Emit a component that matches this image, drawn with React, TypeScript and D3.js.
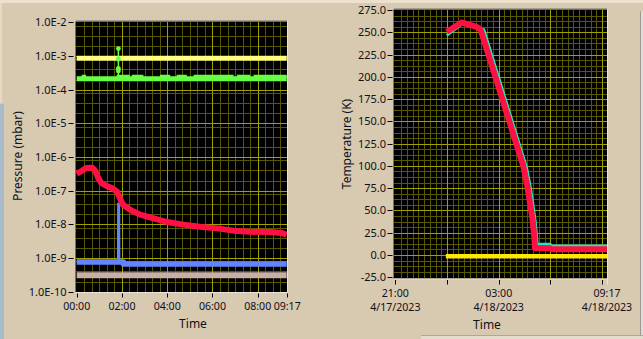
import React from "react";
import * as d3 from "d3";

const W = 643;
const H = 339;

// ---------- Left chart: pressure (log), minutes since 00:00 ----------
const pTickValues = [1e-2, 1e-3, 1e-4, 1e-5, 1e-6, 1e-7, 1e-8, 1e-9, 1e-10];
const pTickLabels = ["1.0E-2", "1.0E-3", "1.0E-4", "1.0E-5", "1.0E-6", "1.0E-7", "1.0E-8", "1.0E-9", "1.0E-10"];
const leftTimeTicks = [0, 120, 240, 360, 480, 557];
const leftTimeLabels = ["00:00", "02:00", "04:00", "06:00", "08:00", "09:17"];

const yellowP: [number, number][] = [[0, 8.5e-4], [557, 8.5e-4]];
const greenP: [number, number][] = [[0, 2.12e-4], [557, 2.12e-4]];
const greenBumps: [number, number][] = [[13, 25], [106, 141], [146, 177], [221, 248], [265, 292], [310, 416], [425, 460], [469, 557]];
const greenSpike: [number, number][] = [[110.5, 2.3e-4], [110.5, 3.6e-4], [110.5, 4.3e-4], [110.5, 8e-4], [110.5, 1.66e-3]];
const redP: [number, number][] = [
  [0, 3.2e-7], [14, 3.9e-7], [25, 4.7e-7], [41, 4.8e-7], [49, 3.9e-7], [57, 2.4e-7],
  [65, 1.7e-7], [78, 1.4e-7], [96, 1.15e-7], [107, 9.3e-8], [115, 5.8e-8], [123, 3.8e-8],
  [142, 2.7e-8], [168, 1.95e-8], [195, 1.6e-8], [240, 1.17e-8], [283, 9.8e-9], [327, 8.5e-9],
  [373, 7.6e-9], [416, 6.5e-9], [460, 6.0e-9], [513, 5.9e-9], [545, 5.5e-9], [557, 4.9e-9],
];
const blueP: [number, number][] = [[0, 7.6e-10], [124, 7.6e-10], [124, 6.6e-10], [557, 6.6e-10]];
const blueSpike: [number, number][] = [[110, 7.5e-10], [110.5, 4.1e-8], [112, 4.1e-8], [112.5, 7.5e-10]];
const roseP: [number, number][] = [[0, 3.1e-10], [557, 3.1e-10]];

// ---------- Right chart: temperature, minutes since 21:00 4/17 ----------
const tTickValues = [275, 250, 225, 200, 175, 150, 125, 100, 75, 50, 25, 0, -25];
const rightTimeTicks = [0, 180, 360, 540, 720];
const rightLabelTimes = [0, 360, 737];
const rightLabelTop = ["21:00", "03:00", "09:17"];
const rightLabelBottom = ["4/17/2023", "4/18/2023", "4/18/2023"];

const redT: [number, number][] = [
  [179, 250.5], [231, 261], [283, 256], [297, 253], [446, 99.5], [460, 76.7], [469, 58],
  [478, 39.3], [484, 20.5], [486, 8], [539, 7.5], [545, 6.6], [737, 6.5],
];
const cyanT: [number, number][] = [
  [179, 246.5], [233, 259.5], [290, 255.5], [308, 253], [457, 98], [470, 76], [479, 57],
  [487, 38], [492, 20], [494, 12], [539, 12], [545, 10.3], [737, 10],
];
const yellowT: [number, number][] = [[176, -1.5], [737, -1.5]];

// ---------- scales ----------
const lx = d3.scaleLinear().domain([0, 557]).range([76.7, 286.7]);
const ly = d3.scaleLog().domain([1e-10, 1e-2]).range([291.7, 22.3]);
const rx = d3.scaleLinear().domain([0, 737]).range([395.3, 607]);
const ry = d3.scaleLinear().domain([-25, 275]).range([277.3, 10]);

const MAJOR = "#a0a000";
const MINOR = "#585800";
const FONT = "'Noto Sans', 'DejaVu Sans', sans-serif";
const TXT = "#101018";

export default function App() {
  const lineL = d3.line<[number, number]>().x((d) => lx(d[0])).y((d) => ly(d[1]));
  const lineR = d3.line<[number, number]>().x((d) => rx(d[0])).y((d) => ry(d[1]));

  // left grid
  const lMinorV = d3.range(20, 557, 20).filter((t) => t % 120 !== 0);
  const lMajorV = d3.range(120, 557, 120);
  const lMinorH: number[] = [];
  for (let e = -10; e < -2; e++) [2, 4, 8].forEach((m) => lMinorH.push(m * Math.pow(10, e)));
  const lMajorH = pTickValues.slice(1, -1);

  // right grid
  const rMinorV = d3.range(20, 737, 20).filter((t) => t % 180 !== 0);
  const rMajorV = d3.range(180, 737, 180);
  const rMinorH = d3.range(-25, 275, 6.25).filter((v) => v % 25 !== 0);
  const rMajorH = d3.range(0, 275, 25);

  const lL = 76, lR = 287, lT = 21.5, lB = 292;
  const rL = 394, rR = 607, rT = 9.5, rB = 278.5;
  const FS = 11;
  const FX = 10.6;

  return (
    <svg width={W} height={H} style={{ position: "fixed", left: 0, top: 0 }} fontFamily={FONT}>
      {/* background */}
      <rect x={0} y={0} width={W} height={H} fill="#d8c9b1" />
      <rect x={0} y={0} width={W} height={3} fill="#ece1cd" />
      <rect x={0} y={3} width={2} height={100} fill="#e6dac6" />
      <rect x={0} y={104} width={3} height={H - 104} fill="#a9bccb" />
      <rect x={3} y={104} width={1} height={H - 104} fill="#c4b49c" />
      <rect x={640} y={11} width={1} height={H - 11} fill="#9a9a9a" />
      <rect x={641} y={11} width={2} height={H - 11} fill="#e4dccd" />
      <rect x={421} y={335} width={W - 421} height={1} fill="#a8a8a8" />
      <rect x={421} y={336} width={W - 421} height={3} fill="#e4dccd" />

      {/* ===== Left plot ===== */}
      <rect x={lL} y={lT} width={lR - lL} height={lB - lT} fill="#000" />
      <g strokeWidth={1} shapeRendering="crispEdges">
        {lMinorV.map((t) => (
          <line key={"lmv" + t} x1={Math.round(lx(t)) + 0.5} x2={Math.round(lx(t)) + 0.5} y1={lT} y2={lB} stroke={MINOR} />
        ))}
        {lMinorH.map((v, i) => (
          <line key={"lmh" + i} x1={lL} x2={lR} y1={Math.round(ly(v)) + 0.5} y2={Math.round(ly(v)) + 0.5} stroke={MINOR} />
        ))}
        {lMajorV.map((t) => (
          <line key={"lMv" + t} x1={Math.round(lx(t)) + 0.5} x2={Math.round(lx(t)) + 0.5} y1={lT} y2={lB} stroke={MAJOR} />
        ))}
        {lMajorH.map((v, i) => (
          <line key={"lMh" + i} x1={lL} x2={lR} y1={Math.round(ly(v)) + 0.5} y2={Math.round(ly(v)) + 0.5} stroke={MAJOR} />
        ))}
      </g>
      <g fill="none" strokeLinejoin="round">
        <path d={lineL(roseP)!} stroke="#c8aea4" strokeWidth={6} />
        <path d={lineL(blueP)!} stroke="#6383ff" strokeWidth={5.5} />
        <path d={lineL(blueSpike)!} stroke="#6383ff" strokeWidth={2.5} />
        <path d={lineL(yellowP)!} stroke="#ffff80" strokeWidth={5} />
        <path d={lineL(greenP)!} stroke="#66ff44" strokeWidth={5} />
        {greenBumps.map((b, i) => (
          <path key={"gb" + i} d={lineL([[b[0], 2.5e-4], [b[1], 2.5e-4]])!} stroke="#66ff44" strokeWidth={3} />
        ))}
        <path d={lineL(greenSpike)!} stroke="#66ff44" strokeWidth={1.5} />
        {greenSpike.slice(1).map((p, i) => (
          <circle key={"gs" + i} cx={lx(p[0])} cy={ly(p[1])} r={2.4} fill="#66ff44" />
        ))}
        <path d={lineL(redP)!} stroke="#ff1043" strokeWidth={6} />
      </g>
      <line x1={lL} x2={lR} y1={lT - 0.5} y2={lT - 0.5} stroke="#6f6f6f" />
      <line x1={lL - 0.5} x2={lL - 0.5} y1={lT} y2={lB} stroke="#6f6f6f" />
      <line x1={lR + 0.5} x2={lR + 0.5} y1={lT} y2={lB} stroke="#e8e4dc" />
      <line x1={lL} x2={lR} y1={lB + 0.5} y2={lB + 0.5} stroke="#e8e4dc" />

      {/* left y axis */}
      {pTickValues.map((v, i) => (
        <g key={"py" + i}>
          <line x1={68.5} x2={73.5} y1={Math.round(ly(v)) + 0.5} y2={Math.round(ly(v)) + 0.5} stroke="#000" />
          <text x={66.5} y={ly(v) + 4} textAnchor="end" fontSize={FS} fill={TXT}>{pTickLabels[i]}</text>
        </g>
      ))}
      {/* left x axis */}
      {leftTimeTicks.map((t, i) => (
        <g key={"px" + i}>
          <line x1={Math.round(lx(t)) + 0.5} x2={Math.round(lx(t)) + 0.5} y1={293.5} y2={297.5} stroke="#000" />
          <text x={i === leftTimeTicks.length - 1 ? lx(t) + 0.5 : lx(t)} y={310} textAnchor="middle" fontSize={FX} fill={TXT}>{leftTimeLabels[i]}</text>
        </g>
      ))}
      <text x={193} y={328} textAnchor="middle" fontSize={12} fill={TXT}>Time</text>
      <text transform="translate(22,156) rotate(-90)" textAnchor="middle" fontSize={12} fill={TXT}>Pressure (mbar)</text>

      {/* ===== Right plot ===== */}
      <rect x={rL} y={rT} width={rR - rL} height={rB - rT} fill="#000" />
      <g strokeWidth={1} shapeRendering="crispEdges">
        {rMinorV.map((t) => (
          <line key={"rmv" + t} x1={Math.round(rx(t)) + 0.5} x2={Math.round(rx(t)) + 0.5} y1={rT} y2={rB} stroke={MINOR} />
        ))}
        {rMinorH.map((v, i) => (
          <line key={"rmh" + i} x1={rL} x2={rR} y1={Math.round(ry(v)) + 0.5} y2={Math.round(ry(v)) + 0.5} stroke={MINOR} />
        ))}
        {rMajorV.map((t) => (
          <line key={"rMv" + t} x1={Math.round(rx(t)) + 0.5} x2={Math.round(rx(t)) + 0.5} y1={rT} y2={rB} stroke={MAJOR} />
        ))}
        {rMajorH.map((v, i) => (
          <line key={"rMh" + i} x1={rL} x2={rR} y1={Math.round(ry(v)) + 0.5} y2={Math.round(ry(v)) + 0.5} stroke={MAJOR} />
        ))}
      </g>
      <g fill="none" strokeLinejoin="round">
        <path d={lineR(yellowT)!} stroke="#ffe800" strokeWidth={4.5} />
        <path d={lineR(cyanT)!} stroke="#22e6c4" strokeWidth={3} />
        <path d={lineR(redT)!} stroke="#ff1043" strokeWidth={6} />
      </g>
      <line x1={rL} x2={rR} y1={rT - 0.5} y2={rT - 0.5} stroke="#6f6f6f" />
      <line x1={rL - 0.5} x2={rL - 0.5} y1={rT} y2={rB} stroke="#6f6f6f" />
      <line x1={rR + 0.5} x2={rR + 0.5} y1={rT} y2={rB} stroke="#e8e4dc" />
      <line x1={rL} x2={rR} y1={rB + 0.5} y2={rB + 0.5} stroke="#e8e4dc" />

      {/* right y axis */}
      {tTickValues.map((v) => (
        <g key={"ty" + v}>
          <line x1={387.5} x2={392.5} y1={Math.round(ry(v)) + 0.5} y2={Math.round(ry(v)) + 0.5} stroke="#000" />
          <text x={386} y={ry(v) + 4} textAnchor="end" fontSize={FS} fill={TXT}>{v.toFixed(1)}</text>
        </g>
      ))}
      {/* right x axis */}
      {rightTimeTicks.map((t) => (
        <line key={"tx" + t} x1={Math.round(rx(t)) + 0.5} x2={Math.round(rx(t)) + 0.5} y1={280} y2={284.5} stroke="#000" />
      ))}
      <line x1={Math.round(rx(737)) + 0.5} x2={Math.round(rx(737)) + 0.5} y1={279} y2={284.5} stroke="#e8e4dc" />
      {rightLabelTimes.map((t, i) => (
        <g key={"tl" + i}>
          <text x={rx(t)} y={297} textAnchor="middle" fontSize={FX} fill={TXT}>{rightLabelTop[i]}</text>
          <text x={rx(t)} y={310.5} textAnchor="middle" fontSize={FX} fill={TXT}>{rightLabelBottom[i]}</text>
        </g>
      ))}
      <text x={487} y={329} textAnchor="middle" fontSize={12} fill={TXT}>Time</text>
      <text transform="translate(351,144) rotate(-90)" textAnchor="middle" fontSize={12} fill={TXT}>Temperature (K)</text>
    </svg>
  );
}
